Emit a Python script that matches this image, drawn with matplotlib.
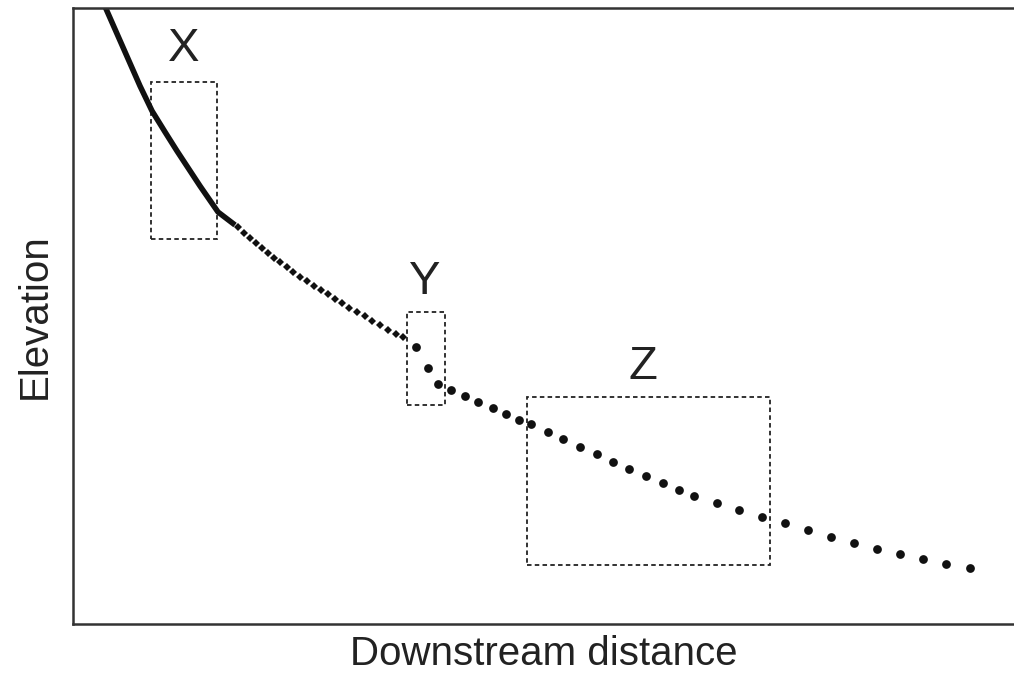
import matplotlib
matplotlib.use('agg')
import matplotlib.pyplot as plt
from matplotlib.patches import Rectangle

plt.rcParams['font.family'] = ['Liberation Sans', 'DejaVu Sans']

# upper reach: steep continuous profile (distance, elevation)
line_x = [3.19, 5.53, 7.12, 8.40, 9.78, 11.05, 13.50, 15.41, 17.22]
line_y = [100.97, 92.86, 87.34, 83.28, 79.87, 76.79, 71.10, 66.88, 64.77]

# middle reach: closely spaced small dots
small_x = [17.53, 18.17, 18.81, 19.45, 20.09, 20.72, 21.36, 22.05, 22.74, 23.43,
           24.12, 24.87, 25.61, 26.35, 27.10, 27.84, 28.59, 29.38, 30.18, 30.98,
           31.77, 32.62, 33.48, 34.33, 35.07]
small_y = [64.37, 63.54, 62.73, 61.90, 61.09, 60.26, 59.46, 58.70, 57.94, 57.19,
           56.40, 55.65, 54.94, 54.22, 53.51, 52.79, 52.06, 51.35, 50.65, 49.95,
           49.24, 48.49, 47.81, 47.16, 46.59]

# lower reach: knickpoint and widely spaced dots
big_x = [36.45, 37.69, 38.76, 40.17, 41.66, 43.07, 44.60, 46.01, 47.43, 48.67,
         50.51, 52.10, 53.88, 55.65, 57.42, 59.12, 60.89, 62.67, 64.43, 65.99,
         68.41, 70.81, 73.22, 75.70, 78.08, 80.55, 82.96, 85.44, 87.89, 90.36,
         92.77, 95.32]
big_y = [44.97, 41.51, 38.91, 37.99, 37.01, 35.99, 35.11, 34.14, 33.12, 32.42,
         31.22, 29.98, 28.78, 27.55, 26.35, 25.16, 23.98, 22.89, 21.75, 20.78,
         19.69, 18.51, 17.42, 16.35, 15.26, 14.17, 13.20, 12.22, 11.31, 10.50,
         9.69, 9.04]

# boxes: label, x0, x1, y0, y1, label position
box_names = ['X', 'Y', 'Z']
box_x0 = [8.29, 35.49, 48.25]
box_x1 = [15.30, 39.53, 74.07]
box_y0 = [62.50, 35.55, 9.58]
box_y1 = [87.99, 50.65, 36.85]
label_x = [11.80, 37.41, 60.57]
label_y = [93.34, 55.52, 41.72]

fig = plt.figure(figsize=(10.14, 6.78), dpi=100)
ax = fig.add_axes([0.072, 0.0796, 0.928, 0.9086])

ax.plot(line_x, line_y, color='#111111', lw=4.0, solid_capstyle='butt', solid_joinstyle='round')
ax.plot(small_x, small_y, 'D', color='#111111', ms=4.0, mew=0)
ax.plot(big_x, big_y, 'o', color='#111111', ms=6.3, mew=0)

for i in range(len(box_names)):
    ax.add_patch(Rectangle((box_x0[i], box_y0[i]), box_x1[i] - box_x0[i], box_y1[i] - box_y0[i],
                           fill=False, ec='#222222', lw=1.3, ls=(0, (2.5, 1.8))))
    ax.text(label_x[i], label_y[i], box_names[i], fontsize=34, ha='center', va='center', color='#222222')

ax.set_xlim(0, 100)
ax.set_ylim(0, 100)
ax.set_xticks([])
ax.set_yticks([])
ax.spines['right'].set_visible(False)
for s in ['left', 'top', 'bottom']:
    ax.spines[s].set_linewidth(1.8)
    ax.spines[s].set_color('#333333')

ax.set_xlabel('Downstream distance', fontsize=29, labelpad=8, color='#222222')
ax.set_ylabel('Elevation', fontsize=29, labelpad=14, color='#222222')

plt.savefig('out.png', dpi=100)
